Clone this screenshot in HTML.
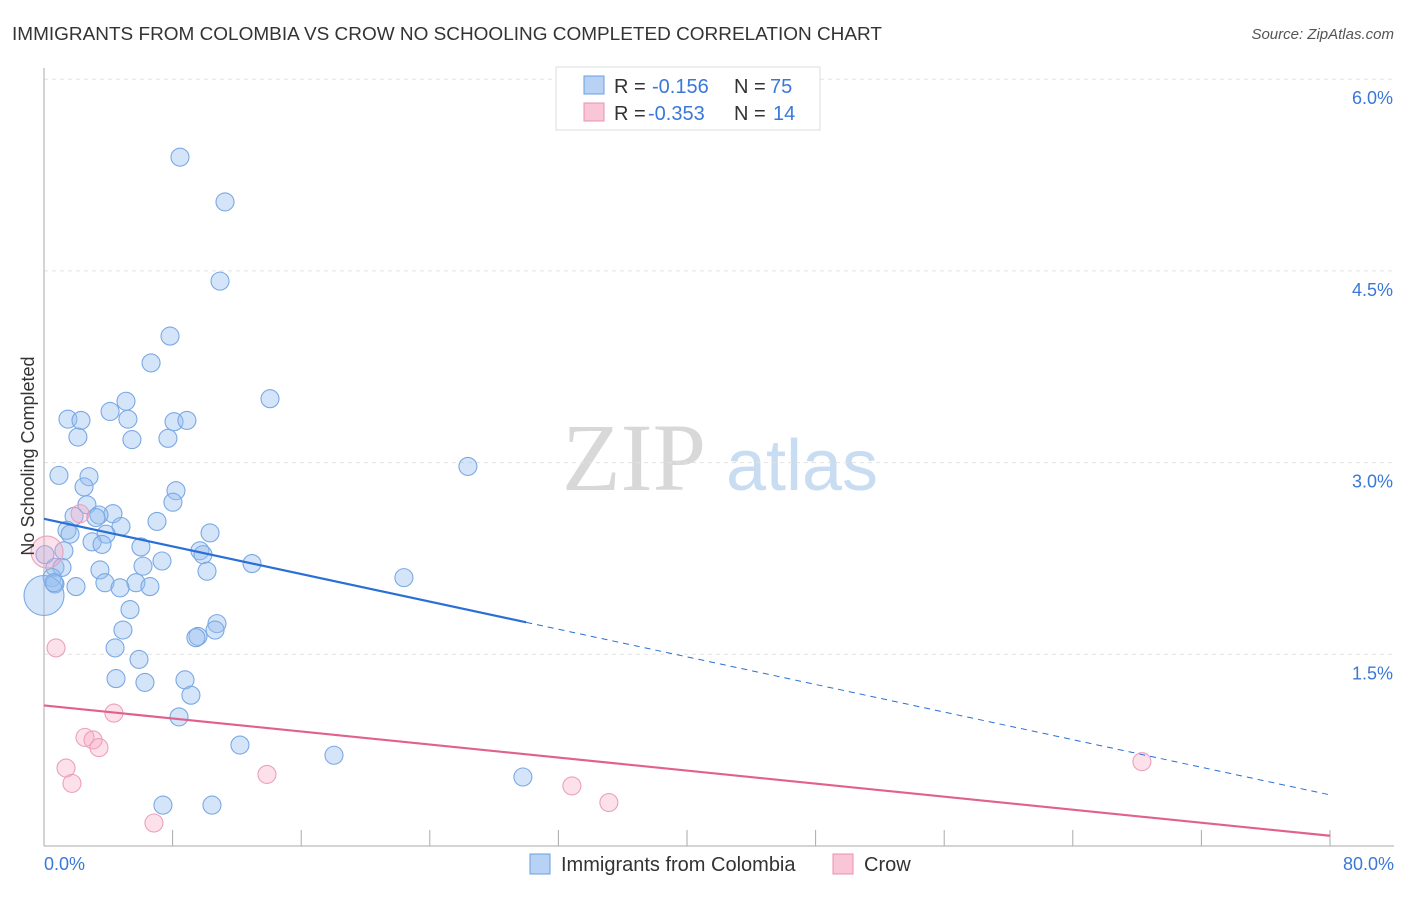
<!DOCTYPE html>
<html><head><meta charset="utf-8"><style>
body{margin:0;background:#fff;font-family:"Liberation Sans",sans-serif}
</style></head><body>
<svg width="1406" height="892" xmlns="http://www.w3.org/2000/svg" style="font-family:'Liberation Sans',sans-serif">
<text x="12" y="40" font-size="18" fill="#333" textLength="870" lengthAdjust="spacingAndGlyphs">IMMIGRANTS FROM COLOMBIA VS CROW NO SCHOOLING COMPLETED CORRELATION CHART</text>
<text x="1394" y="39" font-size="15" fill="#555" text-anchor="end" font-style="italic">Source: ZipAtlas.com</text>
<g>
<text x="634" y="490" font-size="96" fill="#d8d8d8" font-family="Liberation Serif" text-anchor="middle">ZIP</text>
<text x="802" y="490" font-size="72" fill="#c8dcf2" text-anchor="middle">atlas</text>
</g>
<g id="grid"></g>
<g id="axes"></g>
<g id="marks"></g>
<text transform="translate(34,456) rotate(-90)" font-size="18" fill="#333" text-anchor="middle">No Schooling Completed</text>
<g>
<rect x="556" y="67" width="264" height="63" fill="#fff" stroke="#ddd"/>
<rect x="584" y="76" width="20" height="18" fill="#b8d2f5" stroke="#6a9de0"/>
<text x="614" y="93" font-size="20" fill="#333">R =</text>
<text x="652" y="93" font-size="20" fill="#3a78d8">-0.156</text>
<text x="734" y="93" font-size="20" fill="#333">N =</text>
<text x="770" y="93" font-size="20" fill="#3a78d8">75</text>
<rect x="584" y="103" width="20" height="18" fill="#f8c6d6" stroke="#e890b0"/>
<text x="614" y="120" font-size="20" fill="#333">R =</text>
<text x="648" y="120" font-size="20" fill="#3a78d8">-0.353</text>
<text x="734" y="120" font-size="20" fill="#333">N =</text>
<text x="773" y="120" font-size="20" fill="#3a78d8">14</text>
</g>
<g>
<rect x="530" y="854" width="20" height="20" fill="#b8d2f5" stroke="#6a9de0"/>
<text x="561" y="871" font-size="20" fill="#333">Immigrants from Colombia</text>
<rect x="833" y="854" width="20" height="20" fill="#f8c6d6" stroke="#e890b0"/>
<text x="864" y="871" font-size="20" fill="#333">Crow</text>
</g>
</svg>
<script>
const yTicks=[1.5,3.0,4.5,6.0];
const yTickLabels=["1.5%","3.0%","4.5%","6.0%"];
const xTickLabels=["0.0%","80.0%"];
const blueX=[8.46,11.26,10.95,7.84,6.66,14.06,5.10,4.11,1.49,2.30,5.22,8.09,8.89,2.11,5.47,7.71,26.37,0.93,2.80,2.49,8.21,8.02,2.67,4.29,3.42,1.87,3.23,7.03,4.79,1.43,10.33,3.86,1.62,2.99,3.61,6.03,9.70,1.24,9.89,7.34,12.94,6.16,0.68,1.12,3.48,10.14,22.39,0.50,0.68,5.72,3.79,1.99,6.59,4.73,0,5.35,10.76,10.64,9.58,9.45,4.91,4.42,5.91,4.48,6.28,8.77,9.14,8.40,12.19,18.04,29.79,7.40,10.45,0.06,0.62];
const blueY=[5.39,5.04,4.42,3.99,3.78,3.50,3.48,3.40,3.34,3.33,3.34,3.32,3.33,3.20,3.18,3.19,2.97,2.90,2.89,2.81,2.78,2.69,2.67,2.60,2.59,2.58,2.57,2.54,2.50,2.47,2.45,2.44,2.44,2.38,2.36,2.34,2.31,2.31,2.28,2.23,2.21,2.19,2.18,2.18,2.16,2.15,2.10,2.10,2.05,2.06,2.06,2.03,2.03,2.02,1.96,1.85,1.74,1.69,1.64,1.63,1.69,1.55,1.46,1.31,1.28,1.30,1.18,1.01,0.79,0.71,0.54,0.32,0.32,2.28,2.06];
const blueR=[9,9,9,9,9,9,9,9,9,9,9,9,9,9,9,9,9,9,9,9,9,9,9,9,9,9,9,9,9,9,9,9,9,9,9,9,9,9,9,9,9,9,9,9,9,9,9,9,9,9,9,9,9,9,20,9,9,9,9,9,9,9,9,9,9,9,9,9,9,9,9,9,9,9,9];
const pinkX=[0.19,2.24,0.75,4.35,2.55,3.05,3.42,1.37,1.74,13.87,6.84,32.84,35.14,68.30];
const pinkY=[2.30,2.60,1.55,1.04,0.85,0.83,0.77,0.61,0.49,0.56,0.18,0.47,0.34,0.66];
const pinkR=[16,9,9,9,9,9,9,9,9,9,9,9,9,9];
const blueTrend=[2.56,0.40];
const pinkTrend=[1.10,0.08];
const blueSolidEnd=30;
const NS="http://www.w3.org/2000/svg";
const sx=v=>44+v/80*1286, sy=v=>846-v*127.8;
function mk(tag,attrs,parent){const e=document.createElementNS(NS,tag);for(const k in attrs)e.setAttribute(k,attrs[k]);parent.appendChild(e);return e;}
const grid=document.getElementById('grid'),axes=document.getElementById('axes'),marks=document.getElementById('marks');
yTicks.forEach((t,i)=>{
 const l=mk('line',{x1:44,x2:1394,y1:sy(t),y2:sy(t),stroke:'#e2e2e2','stroke-dasharray':'4,4'},grid);
 
 
 const tx=mk('text',{x:1393,y:sy(t)+25,'font-size':18,fill:'#3a78d8','text-anchor':'end'},axes);
 tx.textContent=yTickLabels[i];
 
 
});
const ya=mk('line',{x1:44,x2:44,y1:68,y2:846,stroke:'#aaa'},axes);


const xa=mk('line',{x1:44,x2:1394,y1:846,y2:846,stroke:'#aaa'},axes);


for(let i=0;i<=10;i++){const tk=mk('line',{x1:sx(i*8),x2:sx(i*8),y1:830,y2:846,stroke:'#aaa'},axes);
 
 }
[[0,'start',44],[80,'end',1394]].forEach((a,i)=>{const t=mk('text',{x:a[2],y:870,'font-size':18,fill:'#3a78d8','text-anchor':a[1]},axes);t.textContent=xTickLabels[i];
 
 });
function dots(X,Y,R,fill,stroke,name){X.forEach((x,i)=>{const c=mk('circle',{cx:sx(x),cy:sy(Y[i]),r:R[i],fill:fill,stroke:stroke,'stroke-width':1.1},marks);
 
 });}
dots(blueX,blueY,blueR,'rgba(150,190,240,0.4)','#7aa8e4','colombia-point');
dots(pinkX,pinkY,pinkR,'rgba(245,165,195,0.35)','#eca0bc','crow-point');
const by=x=>blueTrend[0]+(blueTrend[1]-blueTrend[0])*x/80;
const b1=mk('line',{x1:sx(0),y1:sy(by(0)),x2:sx(blueSolidEnd),y2:sy(by(blueSolidEnd)),stroke:'#2a6fd6','stroke-width':2.2},marks);


const b2=mk('line',{x1:sx(blueSolidEnd),y1:sy(by(blueSolidEnd)),x2:sx(80),y2:sy(by(80)),stroke:'#2a6fd6','stroke-width':1,'stroke-dasharray':'6,5'},marks);


const p1=mk('line',{x1:sx(0),y1:sy(pinkTrend[0]),x2:sx(80),y2:sy(pinkTrend[1]),stroke:'#e0608e','stroke-width':2.2},marks);


</script>
</body></html>
